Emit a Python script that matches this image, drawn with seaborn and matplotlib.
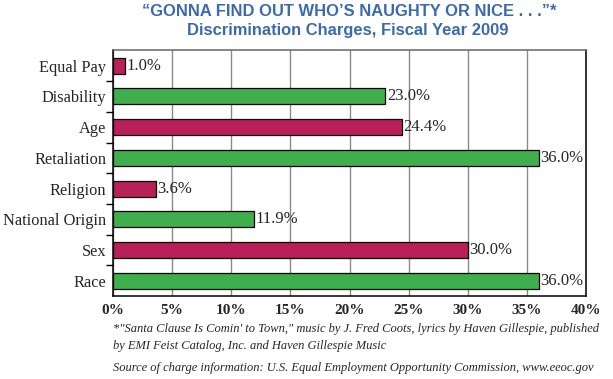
import numpy as np
import matplotlib
matplotlib.use("Agg")
import matplotlib.pyplot as plt
import seaborn as sns

# data
categories = ["Equal Pay", "Disability", "Age", "Retaliation", "Religion",
              "National Origin", "Sex", "Race"]
shares = [1.0, 23.0, 24.4, 36.0, 3.6, 11.9, 30.0, 36.0]
bar_colors = ["#B91F58", "#3FAE4C", "#B91F58", "#3FAE4C", "#B91F58",
              "#3FAE4C", "#B91F58", "#3FAE4C"]
xticks = [0, 5, 10, 15, 20, 25, 30, 35, 40]

sns.set_style("white")
plt.rcParams["font.family"] = ["Liberation Serif", "DejaVu Serif"]

fig = plt.figure(figsize=(6.13, 3.79), dpi=100)
ax = fig.add_axes([0.1843, 0.219, 0.9560 - 0.1843, 0.867 - 0.219])

sns.barplot(x=shares, y=categories, hue=categories, palette=bar_colors,
            legend=False, orient="h", width=0.52, edgecolor="black",
            linewidth=0.9, saturation=1, ax=ax)

# value labels
for i, v in enumerate(shares):
    ax.text(v + 0.15, i, f"{v:.1f}%", va="center", ha="left", fontsize=12)

ax.set_xlim(0, 40)
ax.set_ylim(7.5, -0.5)
ax.set_xticks(xticks)
ax.set_xticklabels([f"{t}%" for t in xticks], fontweight="bold", fontsize=11)
ax.xaxis.grid(True, color="#8a8a8a", linewidth=1)
ax.set_axisbelow(True)
ax.tick_params(axis="x", length=0, pad=6)

# category ticks between bars
ax.set_yticks(range(len(categories)))
ax.set_yticklabels(categories, fontsize=11.8)
ax.set_yticks(np.arange(0.5, len(categories) - 1, 1), minor=True)
ax.tick_params(axis="y", which="major", length=0, pad=5)
ax.tick_params(axis="y", which="minor", length=5, width=1, color="black",
               direction="out", left=True)
ax.set_xlabel("")
ax.set_ylabel("")

for side in ["left", "bottom", "right"]:
    ax.spines[side].set_visible(True)
    ax.spines[side].set_color("black")
    ax.spines[side].set_linewidth(1.1)
ax.spines["top"].set_visible(True)
ax.spines["top"].set_color("#666666")
ax.spines["top"].set_linewidth(1.1)

title_color = "#3C6AAE"
fig.text(349 / 613, 1 - 12 / 379, "\u201cGONNA FIND OUT WHO\u2019S NAUGHTY OR NICE . . .\u201d*",
         ha="center", va="center", fontsize=11.9, fontweight="bold",
         color=title_color, family="Liberation Sans")
fig.text(348 / 613, 1 - 30 / 379, "Discrimination Charges, Fiscal Year 2009",
         ha="center", va="center", fontsize=11.9, fontweight="bold",
         color=title_color, family="Liberation Sans")

fig.text(113 / 613, 1 - 329 / 379,
         "*\"Santa Clause Is Comin' to Town,\" music by J. Fred Coots, lyrics by Haven Gillespie, published",
         ha="left", va="center", fontsize=9, style="italic")
fig.text(113 / 613, 1 - 346 / 379,
         "by EMI Feist Catalog, Inc. and Haven Gillespie Music",
         ha="left", va="center", fontsize=9, style="italic")
fig.text(113 / 613, 1 - 368 / 379,
         "Source of charge information: U.S. Equal Employment Opportunity Commission, www.eeoc.gov",
         ha="left", va="center", fontsize=9, style="italic")

fig.savefig("out.png", dpi=100)
